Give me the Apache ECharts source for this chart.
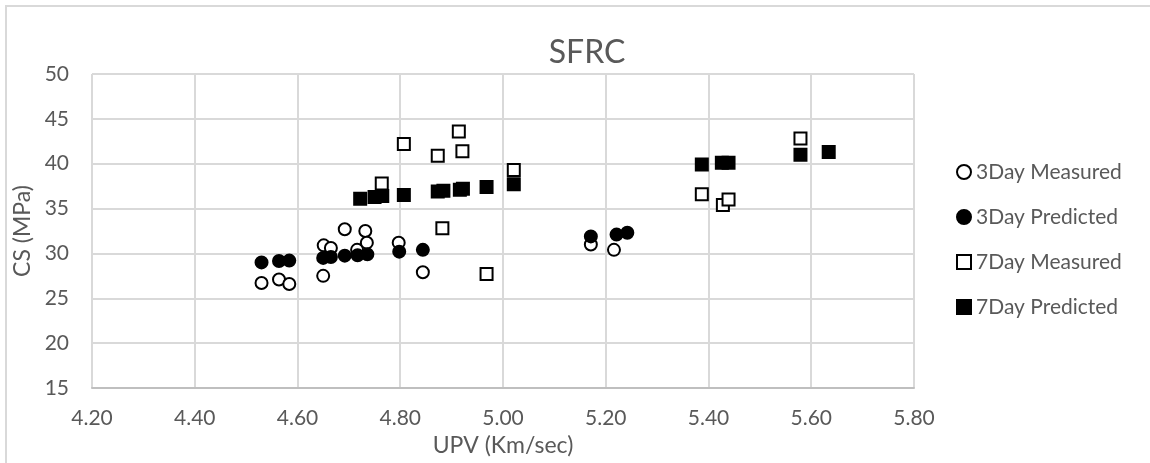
<!DOCTYPE html>
<html>
<head>
<meta charset="utf-8">
<title>SFRC</title>
<script src="https://cdn.jsdelivr.net/npm/echarts@6/dist/echarts.min.js"></script>
<style>
  html, body { margin: 0; padding: 0; background: #ffffff; }
  #chart { width: 1150px; height: 463px; }
</style>
</head>
<body>
<div id="chart"></div>
<script>
// Axis ranges
const X_MIN = 4.2, X_MAX = 5.8, X_STEP = 0.2;
const Y_MIN = 15, Y_MAX = 50, Y_STEP = 5;

// 3-day compressive strength vs UPV
const upv3Measured = [4.530, 4.564, 4.584, 4.650, 4.651, 4.665, 4.692, 4.716, 4.732, 4.735, 4.797, 4.844, 5.171, 5.216];
const cs3Measured  = [26.7, 27.1, 26.6, 27.5, 30.9, 30.6, 32.7, 30.4, 32.5, 31.2, 31.2, 27.9, 31.0, 30.4];

const upv3Predicted = [4.530, 4.564, 4.584, 4.650, 4.665, 4.692, 4.717, 4.736, 4.798, 4.844, 5.171, 5.221, 5.242];
const cs3Predicted  = [29.0, 29.15, 29.2, 29.5, 29.6, 29.75, 29.8, 29.9, 30.2, 30.4, 31.9, 32.1, 32.3];

// 7-day compressive strength vs UPV
const upv7Measured = [4.764, 4.807, 4.873, 4.882, 4.914, 4.921, 4.968, 5.021, 5.387, 5.428, 5.439, 5.579];
const cs7Measured  = [37.8, 42.2, 40.9, 32.8, 43.6, 41.4, 27.7, 39.3, 36.6, 35.4, 36.0, 42.8];

const upv7Predicted = [4.722, 4.750, 4.765, 4.807, 4.873, 4.884, 4.916, 4.922, 4.968, 5.021, 5.387, 5.426, 5.439, 5.579, 5.634];
const cs7Predicted  = [36.1, 36.3, 36.4, 36.5, 36.9, 37.0, 37.1, 37.2, 37.4, 37.7, 39.9, 40.1, 40.1, 41.0, 41.3];

const seriesNames = ['3Day Measured', '3Day Predicted', '7Day Measured', '7Day Predicted'];

const FONT = 'Lato, "Noto Sans", sans-serif';
const TEXT = '#595959';
const GRID_LINE = '#d9d9d9';

function pairs(xs, ys) {
  return xs.map((x, i) => [x, ys[i]]);
}

function scatter(name, xs, ys, symbol, fill) {
  return {
    name: name,
    type: 'scatter',
    symbol: symbol,
    symbolSize: 12,
    itemStyle: { color: fill, borderColor: '#000000', borderWidth: 2, opacity: 1 },
    emphasis: { disabled: true },
    data: pairs(xs, ys)
  };
}

const chart = echarts.init(document.getElementById('chart'), null, { renderer: 'canvas' });

chart.setOption({
  animation: false,
  backgroundColor: '#ffffff',
  textStyle: { fontFamily: FONT },
  title: {
    text: 'SFRC',
    left: 582,
    top: 32,
    textAlign: 'center',
    textStyle: { fontFamily: FONT, fontSize: 32, fontWeight: 'normal', color: TEXT }
  },
  // outer chart frame (top and left edges)
  graphic: [{
    type: 'polyline',
    shape: { points: [[6, 463], [6, 6], [1150, 6]] },
    style: { fill: 'none', stroke: GRID_LINE, lineWidth: 2 },
    silent: true,
    z: -1
  }],
  legend: {
    orient: 'vertical',
    left: 951,
    top: 155,
    itemWidth: 14,
    itemHeight: 14,
    itemGap: 21,
    itemStyle: { borderColor: '#000000', borderWidth: 2 },
    textStyle: { fontFamily: FONT, fontSize: 21, color: TEXT, lineHeight: 24 },
    data: seriesNames
  },
  grid: { left: 92, right: 236, top: 74, bottom: 75 },
  xAxis: {
    type: 'value',
    min: X_MIN,
    max: X_MAX,
    interval: X_STEP,
    name: 'UPV (Km/sec)',
    nameLocation: 'middle',
    nameGap: 46,
    nameTextStyle: { fontFamily: FONT, fontSize: 23, color: TEXT },
    axisLine: { show: true, lineStyle: { color: '#bfbfbf', width: 2 } },
    axisTick: { show: false },
    axisLabel: {
      margin: 20,
      fontFamily: FONT, fontSize: 21, color: TEXT,
      formatter: v => v.toFixed(2)
    },
    splitLine: { show: true, lineStyle: { color: GRID_LINE, width: 2 } }
  },
  yAxis: {
    type: 'value',
    min: Y_MIN,
    max: Y_MAX,
    interval: Y_STEP,
    name: 'CS (MPa)',
    nameLocation: 'middle',
    nameGap: 52,
    nameTextStyle: { fontFamily: FONT, fontSize: 23, color: TEXT },
    axisLine: { show: false },
    axisTick: { show: false },
    axisLabel: { margin: 23, fontFamily: FONT, fontSize: 21, color: TEXT },
    splitLine: { show: true, lineStyle: { color: GRID_LINE, width: 2 } }
  },
  series: [
    scatter(seriesNames[0], upv3Measured, cs3Measured, 'circle', '#ffffff'),
    scatter(seriesNames[1], upv3Predicted, cs3Predicted, 'circle', '#000000'),
    scatter(seriesNames[2], upv7Measured, cs7Measured, 'rect', '#ffffff'),
    scatter(seriesNames[3], upv7Predicted, cs7Predicted, 'rect', '#000000')
  ]
});
</script>
</body>
</html>
